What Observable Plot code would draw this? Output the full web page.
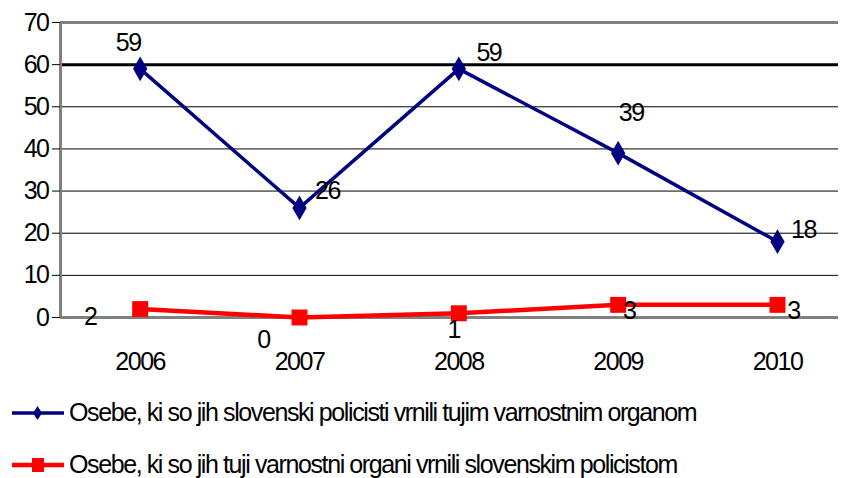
<!DOCTYPE html>
<html>
<head>
<meta charset="utf-8">
<script src="https://cdn.jsdelivr.net/npm/d3@7"></script>
<script src="https://cdn.jsdelivr.net/npm/@observablehq/plot@0.6"></script>
<style>
  body { margin: 0; background: #fff; font-family: "Liberation Sans", Arial, sans-serif; }
  #legend { position: relative; width: 849px; height: 93px; }
  .item { position: absolute; left: 12px; display: flex; align-items: center; font-size: 25px; letter-spacing: -1.4px; color: #000; white-space: nowrap; }
  .item svg { margin-right: 5px; }
</style>
</head>
<body>
<div id="chart"></div>
<div id="legend"></div>
<script>
const years = [2006, 2007, 2008, 2009, 2010];
const seriesNames = [
  "Osebe, ki so jih slovenski policisti vrnili tujim varnostnim organom",
  "Osebe, ki so jih tuji varnostni organi vrnili slovenskim policistom"
];
const blueValues = [59, 26, 59, 39, 18];
const redValues = [2, 0, 1, 3, 3];
const yTicks = [0, 10, 20, 30, 40, 50, 60, 70];

// label offsets (style)
const blueDx = [-12, 28, 30, 13, 26], blueDy = [-26, -17, -16, -40, -12];
const redDx = [-50, -36, -5, 11, 16], redDy = [8, 22, 17, 6, 6];

const blue = years.map((x, i) => ({x, y: blueValues[i], dx: blueDx[i], dy: blueDy[i]}));
const red = years.map((x, i) => ({x, y: redValues[i], dx: redDx[i], dy: redDy[i]}));

const BLUE = "#000080", RED = "#ff0000";
const fontSize = 25;

const labelMarks = (data) => data.map(d => Plot.text([d], {x: "x", y: "y", text: d => String(d.y), dx: d.dx, dy: d.dy, fontSize, fill: "#000", lineAnchor: "middle"}));

const chart = Plot.plot({
  width: 849,
  height: 385,
  marginLeft: 60,
  marginRight: 11,
  marginTop: 22,
  marginBottom: 68,
  style: {fontFamily: "'Liberation Sans', Arial, sans-serif", letterSpacing: "-1.5px", background: "#fff"},
  x: {type: "linear", domain: [2005.5, 2010.383]},
  y: {domain: [0, 70]},
  marks: [
    Plot.ruleY(yTicks.filter(t => t > 0 && t < 70 && t !== 60), {stroke: "#000", strokeWidth: 1}),
    Plot.ruleY([60], {stroke: "#000", strokeWidth: 3}),
    Plot.ruleY([70], {stroke: "#808080", strokeWidth: 3}),
    Plot.ruleY([0], {stroke: "#808080", strokeWidth: 3}),
    Plot.ruleX([2005.5], {stroke: "#808080", strokeWidth: 3}),
    Plot.axisY({ticks: yTicks, tickSize: 8, tickPadding: 4, fontSize, tickFormat: d => String(d), label: null, stroke: "#000"}),
    Plot.axisX({ticks: years, tickSize: 0, tickPadding: 35, fontSize, tickFormat: d => String(d), label: null}),
    Plot.line(blue, {x: "x", y: "y", stroke: BLUE, strokeWidth: 3.5}),
    Plot.dot(blue, {x: "x", y: "y", symbol: "diamond", r: 7.5, fill: BLUE}),
    Plot.line(red, {x: "x", y: "y", stroke: RED, strokeWidth: 4.5}),
    Plot.dot(red, {x: "x", y: "y", symbol: "square", r: 9, fill: RED}),
    ...labelMarks(blue),
    ...labelMarks(red)
  ]
});
document.getElementById("chart").appendChild(chart);

// legend
const legend = document.getElementById("legend");
const legendItems = [
  {name: seriesNames[0], color: BLUE, symbol: "diamond", top: 28},
  {name: seriesNames[1], color: RED, symbol: "square", top: 80}
];
legendItems.forEach(it => {
  const div = document.createElement("div");
  div.className = "item";
  div.style.top = (it.top - 15) + "px";
  const sym = it.symbol === "diamond"
    ? `<path d="M25.5,5 L30,12 L25.5,19 L21,12 Z" fill="${it.color}"/>`
    : `<rect x="20" y="5" width="12" height="14" fill="${it.color}"/>`;
  div.innerHTML = `<svg width="52" height="24"><line x1="0" y1="12" x2="52" y2="12" stroke="${it.color}" stroke-width="${it.symbol === "diamond" ? 3.5 : 4.5}"/>${sym}</svg><span>${it.name}</span>`;
  legend.appendChild(div);
});
</script>
</body>
</html>
